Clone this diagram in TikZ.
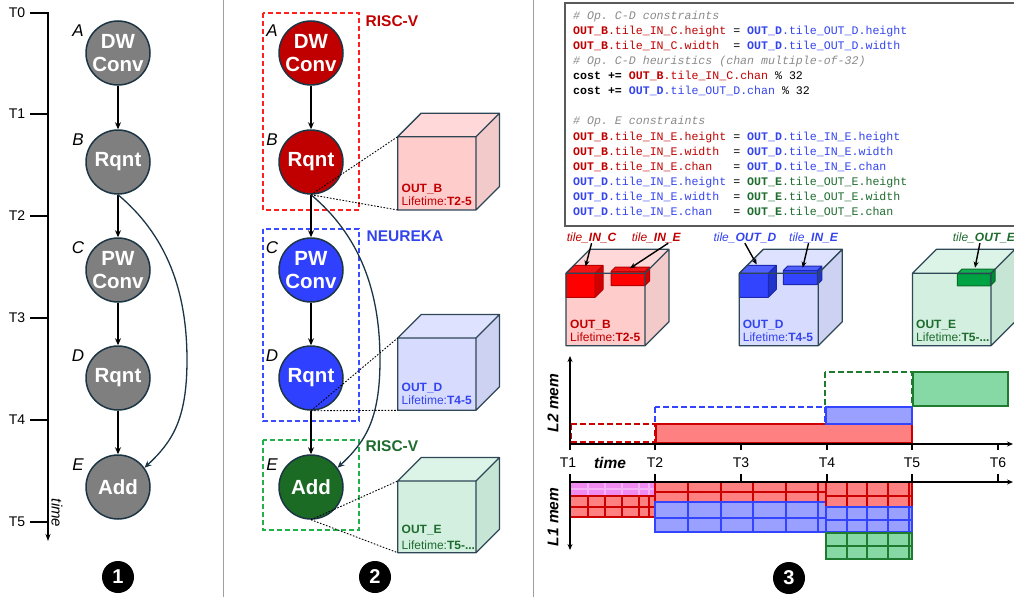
\documentclass[tikz,border=0pt]{standalone}
\usepackage{fontspec}
\setmainfont{Liberation Sans}
\setmonofont{Liberation Mono}
\usetikzlibrary{arrows.meta,calc}

\definecolor{opgray}{HTML}{7F7F7F}
\definecolor{rim}{HTML}{1C3545}
\definecolor{opred}{HTML}{C00000}
\definecolor{opblue}{HTML}{3040FF}
\definecolor{opgreen}{HTML}{1B6B25}
\definecolor{boxred}{HTML}{FF2020}
\definecolor{boxblue}{HTML}{3A4CFF}
\definecolor{boxgreen}{HTML}{22B04A}
\definecolor{txred}{HTML}{C00000}
\definecolor{txblue}{HTML}{3344EE}
\definecolor{txgreen}{HTML}{1E6B2E}
\definecolor{cmt}{HTML}{8A8A8A}
\definecolor{cubeedge}{HTML}{2E4756}
\definecolor{pinkF}{HTML}{FFCCCC}\definecolor{pinkS}{HTML}{F3CACA}\definecolor{pinkT}{HTML}{FFD9D9}
\definecolor{lavF}{HTML}{D7DBFD}\definecolor{lavS}{HTML}{CDD1F2}\definecolor{lavT}{HTML}{DFE2FE}
\definecolor{mintF}{HTML}{D2EFDF}\definecolor{mintS}{HTML}{C6E5D4}\definecolor{mintT}{HTML}{DCF4E7}
\definecolor{tRF}{HTML}{FF0000}\definecolor{tRS}{HTML}{D00000}\definecolor{tRT}{HTML}{F01414}\definecolor{tRE}{HTML}{B80000}
\definecolor{tBF}{HTML}{3344FF}\definecolor{tBS}{HTML}{2233CC}\definecolor{tBT}{HTML}{5060FF}\definecolor{tBE}{HTML}{1A2AB0}
\definecolor{tGF}{HTML}{00A344}\definecolor{tGS}{HTML}{008A35}\definecolor{tGT}{HTML}{10B050}\definecolor{tGE}{HTML}{0D6B2B}
\definecolor{mRF}{HTML}{FF8080}\definecolor{mRE}{HTML}{CC0000}
\definecolor{mBF}{HTML}{99A0FF}\definecolor{mBE}{HTML}{3344FF}
\definecolor{mGF}{HTML}{86D8A4}\definecolor{mGE}{HTML}{1E7B30}
\definecolor{mMF}{HTML}{F08CF0}\definecolor{mME}{HTML}{E030E0}\definecolor{mMI}{HTML}{F6B2F6}
\definecolor{codeframe}{HTML}{5A5A5A}

% code helpers: bold coloured tensor name followed by its coloured member path
\newcommand\kR[2]{\textcolor{txred}{\textbf{#1}#2}}
\newcommand\kB[2]{\textcolor{txblue}{\textbf{#1}#2}}
\newcommand\kG[2]{\textcolor{txgreen}{\textbf{#1}#2}}
\newcommand\kC[1]{\textcolor{cmt}{\itshape #1}}

% box faces: x y w h depth front side top
\newcommand\cubefill[8]{%
  \fill[#6] (#1,#2) rectangle ++(#3,#4);
  \fill[#8] (#1,#2) -- ++(#5,-#5) -- ++(#3,0) -- ++(-#5,#5) -- cycle;
  \fill[#7] (#1+#3,#2) -- ++(#5,-#5) -- ++(0,#4) -- ++(-#5,#5) -- cycle;
}
% box edges: x y w h depth colour width
\newcommand\cubeedges[7]{%
  \draw[#6,line width=#7,line join=round] (#1,#2) rectangle ++(#3,#4)
    (#1,#2) -- ++(#5,-#5) -- ++(#3,0) -- ++(-#5,#5)
    ++(#5,-#5) -- ++(0,#4) -- ++(-#5,#5);
}
% L1 tile grid: x0 x1 y0 ymid y1 {columns} fill inner outer
\newcommand\memblk[9]{%
  \fill[#7] (#1,#3) rectangle (#2,#5);
  \draw[#8,line width=1.6pt] (#1,#4) -- (#2,#4);
  \foreach \cc in {#6} {\draw[#8,line width=1.6pt] (\cc,#3) -- (\cc,#5);}
  \draw[#9,line width=2pt] (#1,#3) rectangle (#2,#5);
}

\begin{document}
\begin{tikzpicture}[x=1pt,y=-1pt,
  op/.style={circle,draw=rim,line width=1.5pt,minimum size=64pt,inner sep=0pt,
    text=white,align=center,font=\fontsize{20.5}{23}\selectfont\bfseries},
  oplbl/.style={font=\fontsize{17}{17}\selectfont\itshape,inner sep=0pt},
  flow/.style={-{Stealth[length=7pt,width=6pt]},line width=1.2pt},
  bypass/.style={-{Stealth[length=7pt,width=6pt]},line width=1.3pt,draw=rim},
  tlbl/.style={font=\fontsize{14}{14}\selectfont,inner sep=0pt},
  num/.style={circle,fill=black,text=white,minimum size=32pt,inner sep=0pt,
    font=\fontsize{20}{20}\selectfont\bfseries},
  sepline/.style={draw=gray!75,line width=1pt},
  grpbox/.style={line width=2pt,dash pattern=on 5pt off 3pt},
  grplbl/.style={font=\fontsize{15.5}{15.5}\selectfont\bfseries,anchor=west,inner sep=0pt},
  dotline/.style={line width=0.9pt,dash pattern=on 1.6pt off 1.6pt},
  cubetxt/.style={font=\fontsize{12}{12}\selectfont,anchor=base west,inner sep=0pt},
  tilelbl/.style={font=\fontsize{12}{12}\selectfont\itshape,anchor=base west,inner sep=0pt},
  tarr/.style={-{Stealth[length=6pt,width=5pt]},line width=1.4pt},
  code/.style={anchor=base west,inner sep=0pt,font=\ttfamily\fontsize{11.6}{11.6}\selectfont},
  axis/.style={line width=1.5pt},
  axarr/.style={line width=1.5pt,-{Stealth[length=6pt,width=5pt]}},
  l2dash/.style={line width=2pt,dash pattern=on 6pt off 3pt},
  memlbl/.style={font=\fontsize{15.5}{15.5}\selectfont\bfseries\itshape,inner sep=0pt}]

\useasboundingbox (0,0) rectangle (1014,597);

% panel separators
\draw[sepline] (223,0) -- (223,597);
\draw[sepline] (533,0) -- (533,597);

% ================= panel 1: graph with time axis =================
\draw[axarr,-{Stealth[length=7pt,width=5pt]}] (30,13) -- (48,13) -- (48,541);
\foreach \yy/\lab in {114/T1,216/T2,318/T3,420/T4,522/T5}
  \draw[axis] (30,\yy) -- (48,\yy);
\foreach \yy/\lab in {13/T0,114/T1,216/T2,318/T3,420/T4,522/T5}
  \node[tlbl] (ax\lab) at (17,\yy) {\lab};
\node[font=\fontsize{15}{15}\selectfont\itshape,inner sep=0pt,rotate=-90] (tm1) at (57,513) {time};

\node[op,fill=opgray] (a1) at (118,53) {DW\\Conv};
\node[op,fill=opgray] (b1) at (118,162) {Rqnt};
\node[op,fill=opgray] (c1) at (118,270) {PW\\Conv};
\node[op,fill=opgray] (d1) at (118,378) {Rqnt};
\node[op,fill=opgray] (e1) at (118,487) {Add};
\node[oplbl] (la1) at ($(a1)+(-40,-22)$) {A};
\node[oplbl] (lb1) at ($(b1)+(-40,-22)$) {B};
\node[oplbl] (lc1) at ($(c1)+(-40,-22)$) {C};
\node[oplbl] (ld1) at ($(d1)+(-40,-22)$) {D};
\node[oplbl] (le1) at ($(e1)+(-40,-22)$) {E};
\draw[flow] (a1) -- (b1);
\draw[flow] (b1) -- (c1);
\draw[flow] (c1) -- (d1);
\draw[flow] (d1) -- (e1);
\draw[bypass] (b1.south) .. controls (172,240) and (187,300) .. (187,360)
  .. controls (187,420) and (172,442) .. (e1.36);
\node[num] (n1) at (118,577) {1};

% ================= panel 2: mapping and output tensors =================
\draw[grpbox,draw=boxred] (263,13) rectangle (359,210);
\draw[grpbox,draw=boxblue] (263,229) rectangle (359,421);
\draw[grpbox,draw=boxgreen] (263,440) rectangle (359,530);
\node[grplbl,text=txred] (g1) at (365.5,21) {RISC-V};
\node[grplbl,text=txblue] (g2) at (366.5,236) {NEUREKA};
\node[grplbl,text=txgreen] (g3) at (365.5,446) {RISC-V};

\cubefill{397.7}{136.7}{78.3}{73.3}{23.5}{pinkF}{pinkS}{pinkT}
\cubeedges{397.7}{136.7}{78.3}{73.3}{23.5}{cubeedge}{1.3pt}
\cubefill{397.7}{338}{78.3}{72.3}{23.5}{lavF}{lavS}{lavT}
\cubeedges{397.7}{338}{78.3}{72.3}{23.5}{cubeedge}{1.3pt}
\cubefill{397.7}{481}{78.3}{71.7}{23.5}{mintF}{mintS}{mintT}
\cubeedges{397.7}{481}{78.3}{71.7}{23.5}{cubeedge}{1.3pt}
\coordinate (cbt) at (397.7,136.7); \coordinate (cbb) at (397.7,210);
\coordinate (cdt) at (397.7,338);   \coordinate (cdb) at (397.7,410.3);
\coordinate (cet) at (397.7,481);   \coordinate (ceb) at (397.7,552.7);
\node[cubetxt,text=txred] (ob2) at (401.5,192) {\textbf{OUT\_B}};
\node[cubetxt,text=txred] (lb2t) at (401.5,205.3) {Lifetime:\textbf{T2-5}};
\node[cubetxt,text=txblue] (od2) at (401.5,391.2) {\textbf{OUT\_D}};
\node[cubetxt,text=txblue] (ld2t) at (401.5,404.5) {Lifetime:\textbf{T4-5}};
\node[cubetxt,text=txgreen] (oe2) at (401.5,533.3) {\textbf{OUT\_E}};
\node[cubetxt,text=txgreen] (le2t) at (401.5,549.3) {Lifetime:\textbf{T5-...}};

\node[op,fill=opred] (a2) at (311,53) {DW\\Conv};
\node[op,fill=opred] (b2) at (311,162) {Rqnt};
\node[op,fill=opblue] (c2) at (311,270) {PW\\Conv};
\node[op,fill=opblue] (d2) at (311,378) {Rqnt};
\node[op,fill=opgreen] (e2) at (311,487) {Add};
\node[oplbl] (la2) at ($(a2)+(-39,-22)$) {A};
\node[oplbl] (lb2) at ($(b2)+(-39,-22)$) {B};
\node[oplbl] (lc2) at ($(c2)+(-39,-22)$) {C};
\node[oplbl] (ld2) at ($(d2)+(-39,-22)$) {D};
\node[oplbl] (le2) at ($(e2)+(-39,-22)$) {E};
\draw[flow] (a2) -- (b2);
\draw[flow] (b2) -- (c2);
\draw[flow] (c2) -- (d2);
\draw[flow] (d2) -- (e2);
\draw[bypass] (b2.south) .. controls (365,240) and (380,300) .. (380,360)
  .. controls (380,420) and (365,442) .. (e2.36);
\draw[dotline] (b2.south) -- (cbt);
\draw[dotline] (b2.south) -- (cbb);
\draw[dotline] (d2.south) -- (cdt);
\draw[dotline] (d2.south) -- (cdb);
\draw[dotline] (e2.south) -- (cet);
\draw[dotline] (e2.south) -- (ceb);
\node[num] (n2) at (375,577) {2};

% ================= panel 3: constraints, tiles and memory =================
\draw[draw=codeframe,line width=2pt] (565,3) rectangle (1030,226);
\node[code] (k1)  at (573,19.2)  {\kC{\#~Op.~C-D~constraints}};
\node[code] (k2)  at (573,34.3)  {\kR{OUT\_B}{.tile\_IN\_C.height}~=~\kB{OUT\_D}{.tile\_OUT\_D.height}};
\node[code] (k3)  at (573,49.4)  {\kR{OUT\_B}{.tile\_IN\_C.width}~~=~\kB{OUT\_D}{.tile\_OUT\_D.width}};
\node[code] (k4)  at (573,64.5)  {\kC{\#~Op.~C-D~heuristics~(chan~multiple-of-32)}};
\node[code] (k5)  at (573,79.6)  {\textbf{cost~+=}~\kR{OUT\_B}{.tile\_IN\_C.chan}~\%~32};
\node[code] (k6)  at (573,94.7)  {\textbf{cost~+=}~\kB{OUT\_D}{.tile\_OUT\_D.chan}~\%~32};
\node[code] (k8)  at (573,124.9) {\kC{\#~Op.~E~constraints}};
\node[code] (k9)  at (573,140.0) {\kR{OUT\_B}{.tile\_IN\_E.height}~=~\kB{OUT\_D}{.tile\_IN\_E.height}};
\node[code] (k10) at (573,155.1) {\kR{OUT\_B}{.tile\_IN\_E.width}~~=~\kB{OUT\_D}{.tile\_IN\_E.width}};
\node[code] (k11) at (573,170.2) {\kR{OUT\_B}{.tile\_IN\_E.chan}~~~=~\kB{OUT\_D}{.tile\_IN\_E.chan}};
\node[code] (k12) at (573,185.3) {\kB{OUT\_D}{.tile\_IN\_E.height}~=~\kG{OUT\_E}{.tile\_OUT\_E.height}};
\node[code] (k13) at (573,200.4) {\kB{OUT\_D}{.tile\_IN\_E.width}~~=~\kG{OUT\_E}{.tile\_OUT\_E.width}};
\node[code] (k14) at (573,215.5) {\kB{OUT\_D}{.tile\_IN\_E.chan}~~~=~\kG{OUT\_E}{.tile\_OUT\_E.chan}};

% tensors with their tiles
\cubefill{566}{273.3}{79}{72.4}{24}{pinkF}{pinkS}{pinkT}
\cubefill{566}{273.3}{29}{24}{8}{tRF}{tRS}{tRT}
\cubeedges{566}{273.3}{29}{24}{8}{tRE}{1pt}
\cubefill{611}{271.5}{34}{14}{4.5}{tRF}{tRS}{tRT}
\cubeedges{611}{271.5}{34}{14}{4.5}{tRE}{1pt}
\cubeedges{566}{273.3}{79}{72.4}{24}{cubeedge}{1.3pt}

\cubefill{739.3}{273.3}{79}{72.4}{24}{lavF}{lavS}{lavT}
\cubefill{739.3}{273.3}{29}{24}{8}{tBF}{tBS}{tBT}
\cubeedges{739.3}{273.3}{29}{24}{8}{tBE}{1pt}
\cubefill{783.3}{270.5}{34}{14}{4.5}{tBF}{tBS}{tBT}
\cubeedges{783.3}{270.5}{34}{14}{4.5}{tBE}{1pt}
\cubeedges{739.3}{273.3}{79}{72.4}{24}{cubeedge}{1.3pt}

\cubefill{912.5}{273.3}{78.5}{72.4}{24}{mintF}{mintS}{mintT}
\cubefill{957.3}{273.8}{33}{12}{4.7}{tGF}{tGS}{tGT}
\cubeedges{957.3}{273.8}{33}{12}{4.7}{tGE}{1pt}
\cubeedges{912.5}{273.3}{78.5}{72.4}{24}{cubeedge}{1.3pt}

\node[cubetxt,text=txred] (ob3) at (570,328.6) {\textbf{OUT\_B}};
\node[cubetxt,text=txred] (lb3) at (570,341.2) {Lifetime:\textbf{T2-5}};
\node[cubetxt,text=txblue] (od3) at (742.7,328.6) {\textbf{OUT\_D}};
\node[cubetxt,text=txblue] (ld3) at (742.7,341.2) {Lifetime:\textbf{T4-5}};
\node[cubetxt,text=txgreen] (oe3) at (916,328.6) {\textbf{OUT\_E}};
\node[cubetxt,text=txgreen] (le3) at (916,341.2) {Lifetime:\textbf{T5-...}};

\node[tilelbl,text=txred] (tic) at (566.7,241.5) {tile\_\textbf{IN\_C}};
\node[tilelbl,text=txred] (tie) at (631.7,241.5) {tile\_\textbf{IN\_E}};
\node[tilelbl,text=txblue] (tod) at (713.3,241.5) {tile\_\textbf{OUT\_D}};
\node[tilelbl,text=txblue] (tie2) at (789,241.5) {tile\_\textbf{IN\_E}};
\node[tilelbl,text=txgreen] (toe) at (952.7,241.5) {tile\_\textbf{OUT\_E}};
\coordinate (ticT) at (585.5,266.5);
\coordinate (tieT) at (630,268.3);
\coordinate (todT) at (756.7,264.5);
\coordinate (tie2T) at (802.7,267.7);
\coordinate (toeT) at (975,267.7);
\draw[tarr] (tic.south) -- (ticT);
\draw[tarr] ($(tie.south)+(12,0)$) -- (tieT);
\draw[tarr] (tod.south) -- (todT);
\draw[tarr] ($(tie2.south)+(-5,0)$) -- (tie2T);
\draw[tarr] ($(toe.south)+(-4,0)$) -- (toeT);

% L2 memory occupancy
\draw[l2dash,draw=mRE] (571,424) rectangle (655,442);
\draw[l2dash,draw=mBE] (655,407) rectangle (825,424);
\draw[l2dash,draw=mGE] (825,372) rectangle (912,407);
\filldraw[fill=mRF,draw=mRE,line width=2pt] (656,424) rectangle (912,443);
\filldraw[fill=mBF,draw=mBE,line width=2pt] (826,407) rectangle (912,424);
\filldraw[fill=mGF,draw=mGE,line width=2pt] (913,372) rectangle (1008,406);

% L1 memory tiles
\memblk{570}{655}{482}{489}{496}{588,605,622,639,649}{mMF}{mMI}{mME}
\memblk{570}{655}{496}{507}{517}{588,605,622,639,649}{mRF}{mRE}{mRE}
\memblk{655}{826}{482}{492}{502}{688,721,753,786,818}{mRF}{mRE}{mRE}
\memblk{655}{826}{502}{518}{532}{688,721,753,786,818}{mBF}{mBE}{mBE}
\memblk{826}{912}{482}{496}{507}{847,867,888,909}{mRF}{mRE}{mRE}
\memblk{826}{912}{507}{520}{532}{847,867,888,909}{mBF}{mBE}{mBE}
\memblk{826}{912}{533}{546}{559}{847,867,888,909}{mGF}{mGE}{mGE}

% time axes
\draw[axarr] (570,444) -- (570,356);
\draw[axarr] (570,444) -- (1013,444);
\draw[axarr] (570,474) -- (570,550);
\draw[axarr] (570,482) -- (1013,482);
\foreach \xx in {570,655,741,827,912,998}
  \draw[axis] (\xx,444) -- (\xx,450);
\foreach \xx in {655,741,827,912,998}
  \draw[axis] (\xx,474) -- (\xx,482);
\foreach \xx/\lab in {568/T1,655/T2,741/T3,827/T4,912/T5,998/T6}
  \node[tlbl] (tk\lab) at (\xx,463) {\lab};
\node[memlbl] (tmx) at (610,463) {time};
\node[memlbl,rotate=90] (l2m) at (553,403) {L2 mem};
\node[memlbl,rotate=90] (l1m) at (553,517) {L1 mem};

\node[num] (n3) at (789,578) {3};
\end{tikzpicture}
\end{document}
